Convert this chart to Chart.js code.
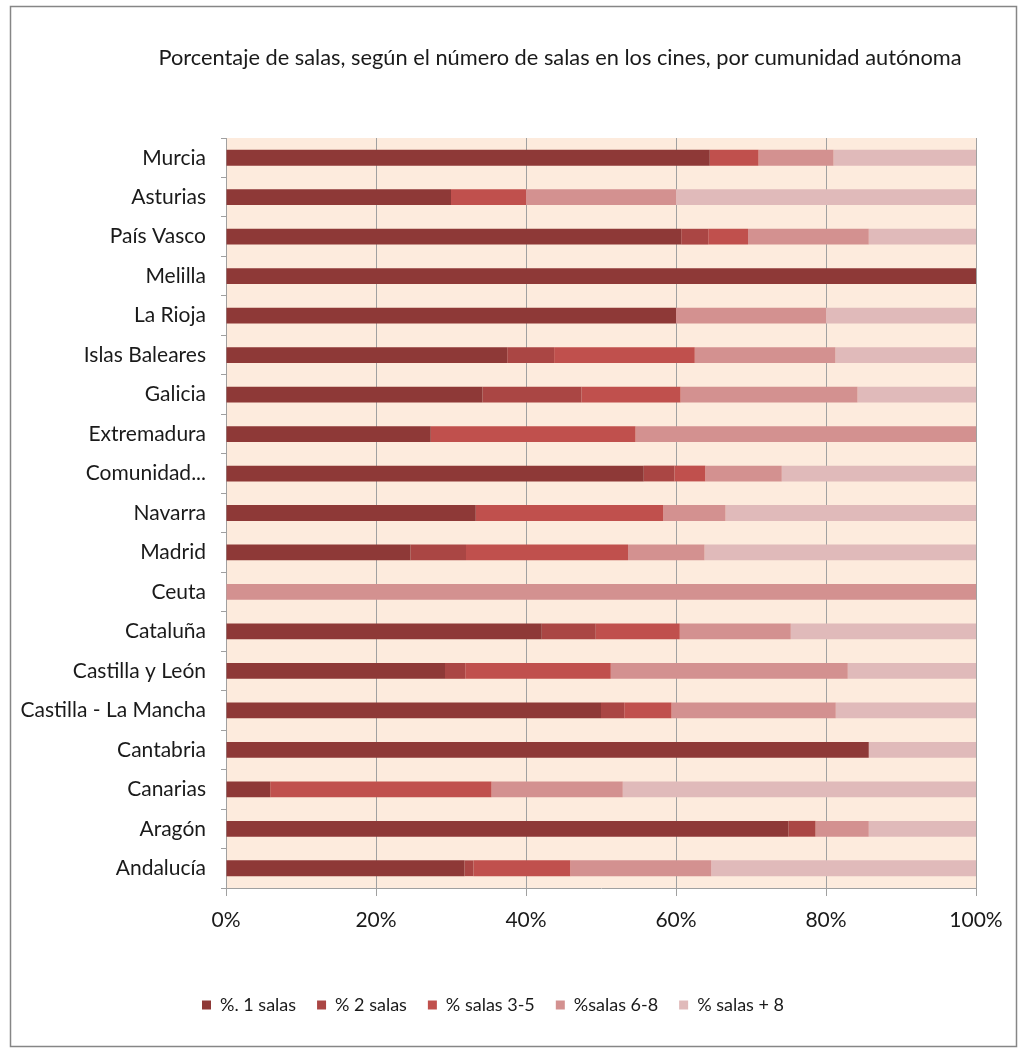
<!DOCTYPE html>
<html>
<head>
<meta charset="utf-8">
<script src="https://cdn.jsdelivr.net/npm/chart.js@4.4.0/dist/chart.umd.min.js"></script>
<style>
html,body{margin:0;padding:0;background:#fff;}
#wrap{position:relative;width:1023px;height:1049px;}
</style>
</head>
<body>
<div id="wrap"><canvas id="c" width="1023" height="1049"></canvas></div>
<script>
const titleText = 'Porcentaje de salas, según el número de salas en los cines, por cumunidad autónoma';
const categories = ['Murcia','Asturias','País Vasco','Melilla','La Rioja','Islas Baleares','Galicia','Extremadura','Comunidad...','Navarra','Madrid','Ceuta','Cataluña','Castilla y León','Castilla - La Mancha','Cantabria','Canarias','Aragón','Andalucía'];
const seriesNames = ['%. 1 salas','% 2 salas','% salas 3-5','%salas 6-8','% salas + 8'];
const salas1  = [64.5,30,60.7,100,60,37.5,34.2,27.3,55.7,33.3,24.6,0,42.1,29.2,50,85.7,5.9,75,31.8];
const salas2  = [0,0,3.6,0,0,6.25,13.2,0,4.1,0,7.4,0,7.2,2.7,3.1,0,0,3.6,1.2];
const salas35 = [6.5,10,5.3,0,0,18.75,13.2,27.3,4.1,25,21.6,0,11.2,19.4,6.3,0,29.5,0,12.9];
const salas68 = [10,20,16.1,0,20,18.75,23.6,45.4,10.2,8.3,10.2,100,14.8,31.6,21.9,0,17.5,7.1,18.8];
const salas8  = [19,40,14.3,0,20,18.75,15.8,0,25.9,33.4,36.2,0,24.7,17.1,18.7,14.3,47.1,14.3,35.3];
const xTicks = [0,20,40,60,80,100];

const colors = ['#8E3937','#AA4644','#C0504D','#D39190','#E0BABA'];
const FONT = 'Lato, "Liberation Sans", sans-serif';
const TEXT = '#1a1a1a';

const deco = {
  id:'deco',
  beforeDraw(chart){
    const {ctx, chartArea:a} = chart;
    ctx.save();
    ctx.fillStyle = '#FDEBDD';
    ctx.fillRect(a.left, a.top, a.right-a.left, a.bottom-a.top);
    ctx.restore();
  },
  afterDraw(chart){
    const ctx = chart.ctx;
    ctx.save();
    ctx.strokeStyle = '#868686';
    ctx.lineWidth = 1.5;
    ctx.strokeRect(10.5, 6.5, 1006, 1040);
    ctx.fillStyle = TEXT;
    ctx.font = '21.8px ' + FONT;
    ctx.textAlign = 'center';
    ctx.textBaseline = 'middle';
    ctx.fillText(titleText, 560, 58);
    ctx.restore();
  }
};

const data = {
  labels: categories,
  datasets: [salas1, salas2, salas35, salas68, salas8].map((d,i)=>({
    label: seriesNames[i],
    data: d,
    backgroundColor: colors[i],
    borderWidth: 0,
    barPercentage: 0.4,
    categoryPercentage: 1.0
  }))
};

new Chart(document.getElementById('c'), {
  type:'bar',
  data,
  plugins:[deco],
  options:{
    indexAxis:'y',
    responsive:false,
    animation:false,
    layout:{padding:{left:10, right:47, top:138, bottom:25}},
    plugins:{
      title:{display:false},
      tooltip:{enabled:false},
      legend:{
        position:'bottom',
        labels:{
          boxWidth:9, boxHeight:9,
          color:TEXT,
          padding:21,
          font:{family:FONT, size:18}
        }
      }
    },
    scales:{
      x:{
        stacked:true, min:0, max:100,
        afterBuildTicks(s){ s.ticks = xTicks.map(v=>({value:v})); },
        afterFit(s){ s.height = 87; },
        border:{color:'#A0A0A0', width:1},
        grid:{color:'#A0A0A0', lineWidth:1, tickLength:8, drawTicks:true},
        ticks:{
          color:TEXT, padding:12,
          font:{family:FONT, size:21},
          callback:(v)=>v+'%'
        }
      },
      y:{
        stacked:true,
        afterFit(s){ s.width = 216; },
        border:{color:'#A0A0A0', width:1},
        grid:{display:true, drawOnChartArea:false, offset:true, color:'#A0A0A0', tickLength:5},
        ticks:{color:TEXT, padding:15, font:{family:FONT, size:21}, autoSkip:false}
      }
    }
  }
});
</script>
</body>
</html>
